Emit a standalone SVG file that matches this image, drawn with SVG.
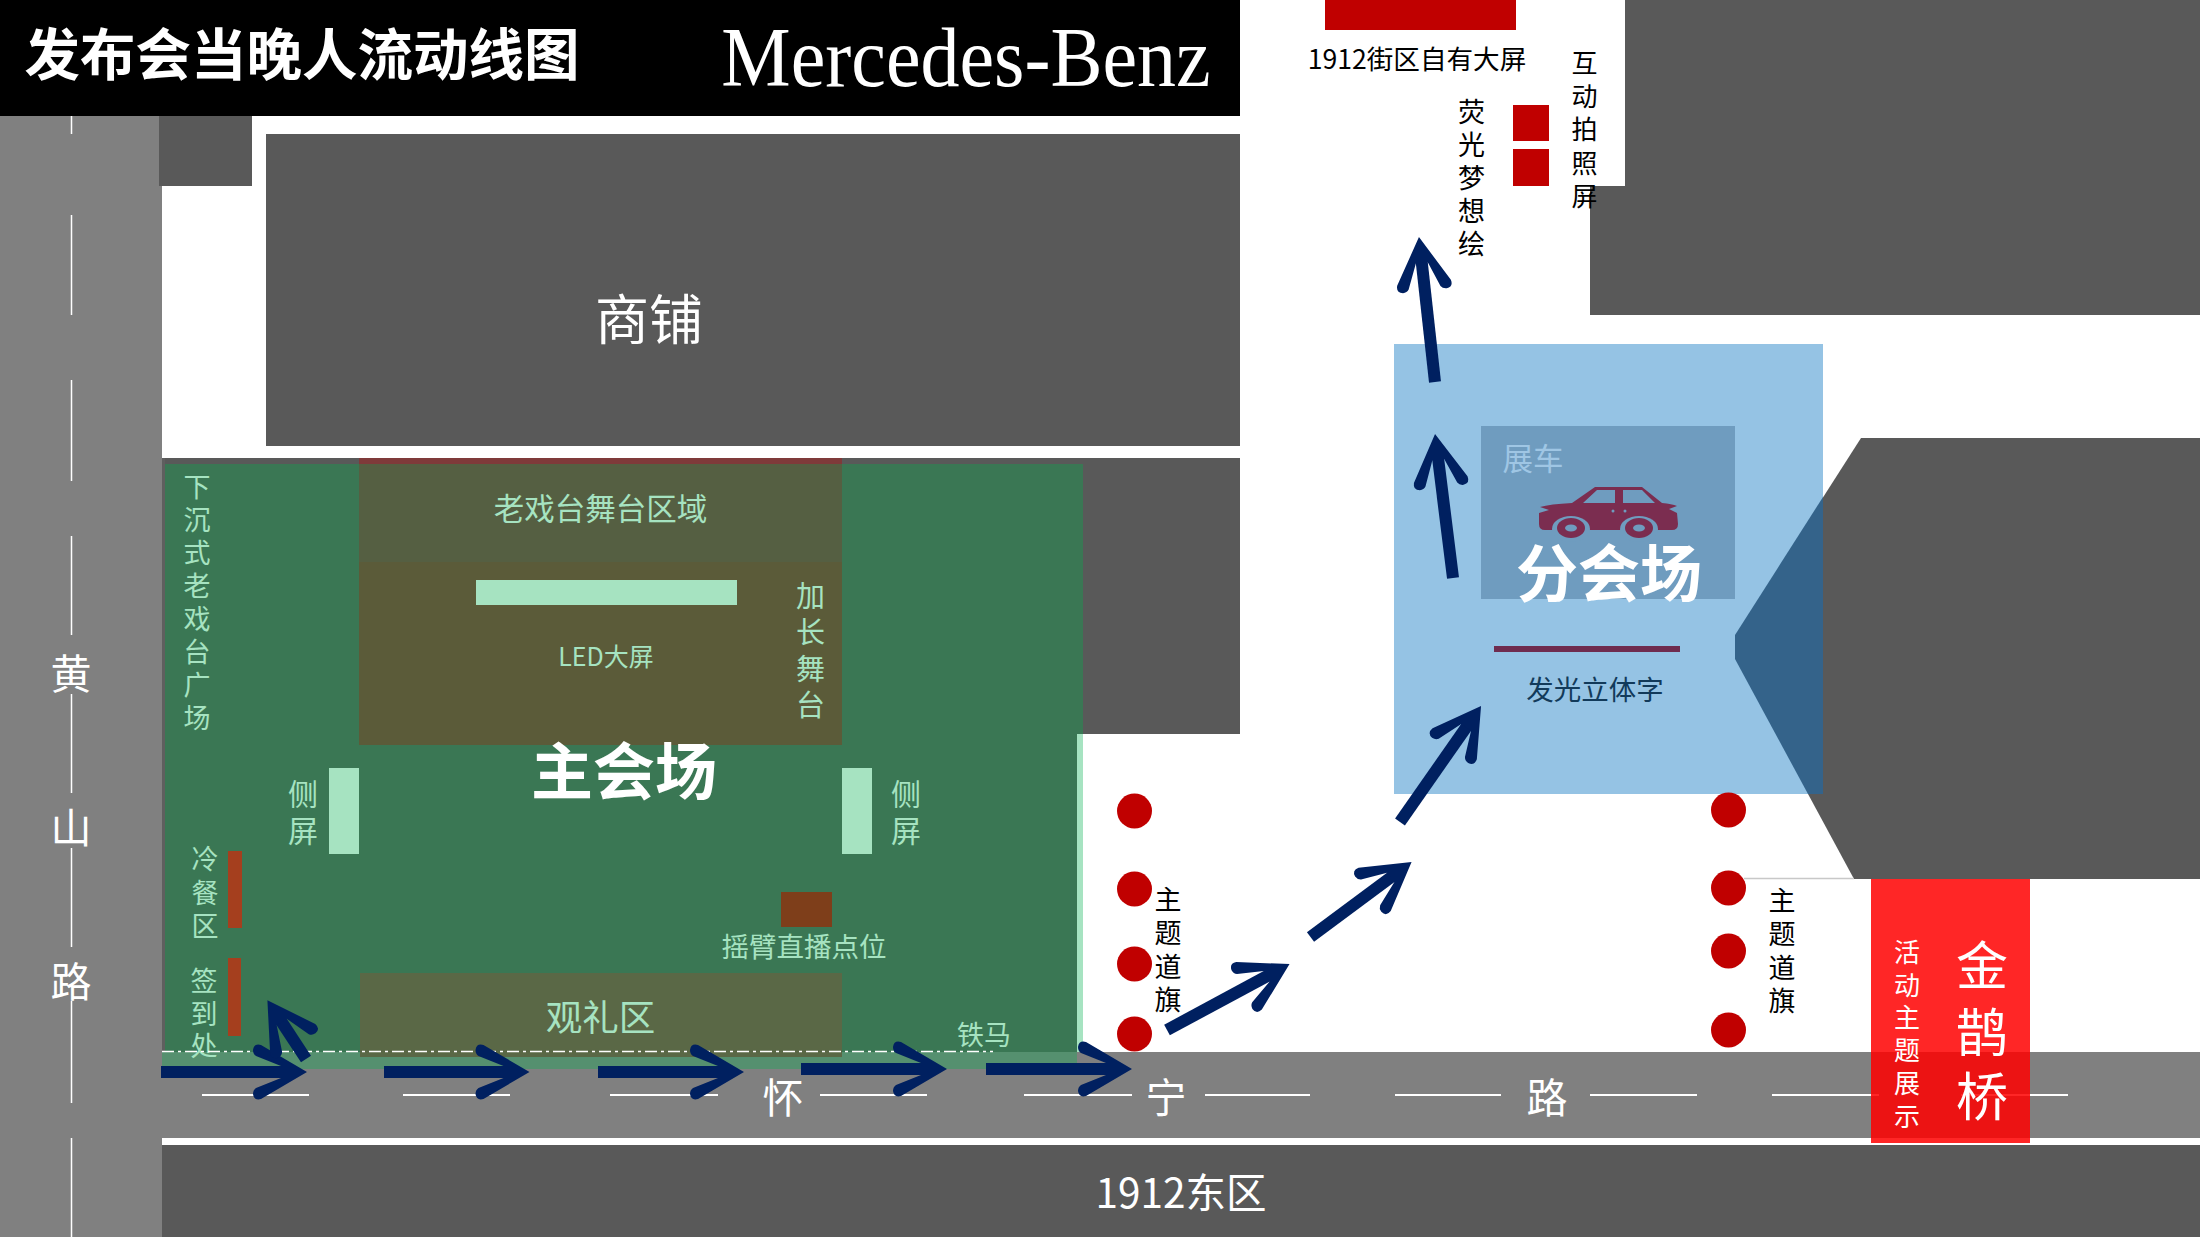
<svg xmlns="http://www.w3.org/2000/svg" width="2200" height="1238" viewBox="0 0 2200 1238">
<style>
text{font-family:"Noto Sans CJK SC","Noto Sans",sans-serif;text-anchor:middle}
.g{fill:#a6e3c1}.w{fill:#fff}.k{fill:#000}
.bld{fill:#595959}.road{fill:#808080}.lane{stroke:#fff;stroke-width:2;fill:none}
.flag{fill:#c00000}.red{fill:#c00000}
.arrow{stroke:#002060;stroke-width:12;fill:none;marker-end:url(#head)}
</style>
<defs>
<marker id="head" viewBox="-60 -32 60 64" refX="-24" refY="0" markerWidth="60" markerHeight="64" markerUnits="userSpaceOnUse" orient="auto">
<path d="M0,0 L-46,-27 Q-53,-29 -54,-22 Q-54,-18 -51,-16 L-26,-6 L-26,6 L-51,16 Q-54,18 -54,22 Q-53,29 -46,27 Z" fill="#002060"/>
</marker>
</defs>
<rect width="2200" height="1238" fill="#fff"/>
<g id="roads">
<rect class="road" x="0" y="116" width="162" height="1121"/>
<rect class="road" x="162" y="1052" width="2038" height="86"/>
<path class="lane" stroke-width="1.500" style="stroke-width:1.500" d="M71.500,116V134M71.500,215V315M71.500,380V481M71.500,536V635M71.500,694V793M71.500,848V947M71.500,1001V1103M71.500,1138V1237"/>
<path class="lane" d="M202,1095H309M403,1095H510M610,1095H718M820,1095H927M1024,1095H1132M1205,1095H1310M1395,1095H1501M1590,1095H1697M1772,1095H1879M1961,1095H2068"/>
<text class="w" x="71" y="689" font-size="41">黄</text>
<text class="w" x="71" y="843" font-size="41">山</text>
<text class="w" x="71" y="997" font-size="41">路</text>
<text class="w" x="783" y="1113" font-size="41">怀</text>
<text class="w" x="1166" y="1113" font-size="41">宁</text>
<text class="w" x="1547" y="1113" font-size="41">路</text>
</g>
<g id="buildings">
<rect class="bld" x="159" y="116" width="93" height="70"/>
<rect class="bld" x="266" y="134" width="974" height="312"/>
<text class="w" x="649" y="340" font-size="54">商铺</text>
<rect class="bld" x="162" y="458" width="1078" height="276"/>
<path class="bld" d="M1625,0H2200V315H1590V186H1625Z"/>
<path class="bld" d="M1861,438H2200V879H1854L1735,659V635Z"/>
<rect class="bld" x="162" y="1145" width="2038" height="92"/>
<text class="w" x="1181" y="1208" font-size="40.500">1912东区</text>
</g>
<g id="header">
<rect x="0" y="0" width="1240" height="116" fill="#000"/>
<text class="w" x="302" y="75" font-size="55.500" font-weight="700">发布会当晚人流动线图</text>
<text class="w" transform="translate(966 86) scale(1 1.080)" font-size="78" style="font-family:'Liberation Serif',serif">Mercedes-Benz</text>
</g>
<g id="main-venue">
<rect x="162" y="458" width="3" height="594" fill="#5f5f5f"/>
<rect x="165" y="464" width="918" height="270" fill="#3a7754"/>
<rect x="165" y="734" width="912" height="318" fill="#3a7754"/>
<rect x="162" y="1052" width="915" height="17" fill="#55906f"/>
<rect x="1077" y="734" width="6" height="318" fill="#a6e3c1"/>
<rect x="359" y="458" width="483" height="6" fill="#7f3a3a"/>
<rect x="359" y="464" width="483" height="98" fill="#555f42"/>
<rect x="359" y="562" width="483" height="183" fill="#5b5b39"/>
<text class="g" x="600.500" y="519.500" font-size="30.500">老戏台舞台区域</text>
<rect x="476" y="580" width="261" height="25" fill="#a6e3c1"/>
<text class="g" x="606" y="666" font-size="25">LED大屏</text>
<text class="g" x="197" font-size="27"><tspan x="197" y="497">下</tspan><tspan x="197" y="530">沉</tspan><tspan x="197" y="563">式</tspan><tspan x="197" y="596">老</tspan><tspan x="197" y="629">戏</tspan><tspan x="197" y="662">台</tspan><tspan x="197" y="695">广</tspan><tspan x="197" y="728">场</tspan></text>
<text class="g" x="810.500" font-size="29"><tspan x="810.500" y="607">加</tspan><tspan x="810.500" y="643">长</tspan><tspan x="810.500" y="680">舞</tspan><tspan x="810.500" y="716">台</tspan></text>
<rect x="329" y="768" width="30" height="86" fill="#a6e3c1"/>
<rect x="842" y="768" width="30" height="86" fill="#a6e3c1"/>
<text class="g" x="303" font-size="30"><tspan x="303" y="805">侧</tspan><tspan x="303" y="842">屏</tspan></text>
<text class="g" x="906" font-size="30"><tspan x="906" y="805">侧</tspan><tspan x="906" y="842">屏</tspan></text>
<text class="w" x="624" y="795" font-size="62" font-weight="700">主会场</text>
<rect x="228" y="851" width="14" height="77" fill="#a53f1e"/>
<rect x="228" y="958" width="13" height="78" fill="#a53f1e"/>
<text class="g" x="205" font-size="27"><tspan x="205" y="869">冷</tspan><tspan x="205" y="903">餐</tspan><tspan x="205" y="936">区</tspan></text>
<text class="g" x="204" font-size="27"><tspan x="204" y="991">签</tspan><tspan x="204" y="1024">到</tspan><tspan x="204" y="1056">处</tspan></text>
<rect x="781" y="892" width="51" height="35" fill="#7e3e1a"/>
<text class="g" x="804" y="957" font-size="27.500">摇臂直播点位</text>
<rect x="360" y="973" width="482" height="84" fill="#5a6846"/>
<text class="g" x="600.500" y="1031" font-size="36.500">观礼区</text>
<text class="g" x="984" y="1045" font-size="27">铁马</text>
<path d="M162,1051.500H993" stroke="#fff" stroke-width="1.500" stroke-dasharray="12 4 3 4" fill="none"/>
</g>
<g id="sub-venue">
<rect x="1394" y="344" width="429" height="450" fill="#95c3e4"/>
<path d="M1823,497L1735,635V659L1808,794H1823Z" fill="#34638a"/>
<rect x="1481" y="426" width="254" height="173" fill="#6f9cbf"/>
<text x="1533" y="470" font-size="30.500" fill="#9fc6e4">展车</text>
<g id="car">
<path fill="#7b2d50" d="M1595,487H1642L1662,503Q1672,504 1677,506L1669,509L1677,513L1678,524Q1678,530 1672,530H1545Q1539,530 1539,524V513L1549,510L1540,507Q1550,504 1572,503Z"/>
<path fill="#6f9cbf" d="M1583,503L1597,490H1615V503ZM1623,490H1642L1655,503H1623Z"/>
<circle cx="1613" cy="511" r="1.500" fill="#6f9cbf"/>
<circle cx="1625" cy="511" r="1.500" fill="#6f9cbf"/>
<ellipse cx="1571" cy="529" rx="19" ry="13" fill="#6f9cbf"/>
<ellipse cx="1639" cy="529" rx="19" ry="13" fill="#6f9cbf"/>
<ellipse cx="1571" cy="528" rx="14" ry="10" fill="#7b2d50"/>
<ellipse cx="1639" cy="528" rx="14" ry="10" fill="#7b2d50"/>
<ellipse cx="1571" cy="528" rx="6" ry="3.500" fill="#6f9cbf"/>
<ellipse cx="1639" cy="528" rx="6" ry="3.500" fill="#6f9cbf"/>
</g>
<text class="w" x="1609" y="597" font-size="62" font-weight="700">分会场</text>
<rect x="1494" y="646" width="186" height="6" fill="#6f2c4f"/>
<text x="1595" y="700" font-size="27.500" fill="#123a5a">发光立体字</text>
</g>
<g id="north-items">
<rect class="red" x="1325" y="0" width="191" height="30"/>
<text class="k" x="1417" y="69" font-size="26.600">1912街区自有大屏</text>
<rect class="red" x="1513" y="105" width="36" height="36"/>
<rect class="red" x="1513" y="149" width="36" height="37"/>
<text class="k" x="1471.500" font-size="27"><tspan x="1471.500" y="122">荧</tspan><tspan x="1471.500" y="155">光</tspan><tspan x="1471.500" y="188">梦</tspan><tspan x="1471.500" y="221">想</tspan><tspan x="1471.500" y="254">绘</tspan></text>
<text class="k" x="1584.500" font-size="26"><tspan x="1584.500" y="73">互</tspan><tspan x="1584.500" y="106">动</tspan><tspan x="1584.500" y="139">拍</tspan><tspan x="1584.500" y="173">照</tspan><tspan x="1584.500" y="206">屏</tspan></text>
</g>
<g id="flags">
<circle class="flag" cx="1134.500" cy="811" r="17.500"/>
<circle class="flag" cx="1134.500" cy="889" r="17.500"/>
<circle class="flag" cx="1134.500" cy="964" r="17.500"/>
<circle class="flag" cx="1134.500" cy="1034" r="17.500"/>
<circle class="flag" cx="1728.500" cy="810" r="17.500"/>
<circle class="flag" cx="1728.500" cy="888" r="17.500"/>
<circle class="flag" cx="1728.500" cy="951" r="17.500"/>
<circle class="flag" cx="1728.500" cy="1030" r="17.500"/>
<text class="k" x="1168" font-size="27"><tspan x="1168" y="910">主</tspan><tspan x="1168" y="943">题</tspan><tspan x="1168" y="977">道</tspan><tspan x="1168" y="1010">旗</tspan></text>
<text class="k" x="1782" font-size="27"><tspan x="1782" y="911">主</tspan><tspan x="1782" y="944">题</tspan><tspan x="1782" y="978">道</tspan><tspan x="1782" y="1011">旗</tspan></text>
<path d="M1744,878.500H1854" stroke="#c8c8c8" stroke-width="1.500" fill="none"/>
</g>
<g id="bridge">
<rect x="1871" y="879" width="159" height="264" fill="#ff0000" fill-opacity=".85"/>
<text class="w" x="1907" font-size="26"><tspan x="1907" y="962">活</tspan><tspan x="1907" y="995">动</tspan><tspan x="1907" y="1027">主</tspan><tspan x="1907" y="1060">题</tspan><tspan x="1907" y="1093">展</tspan><tspan x="1907" y="1126">示</tspan></text>
<text class="w" x="1982" font-size="52"><tspan x="1982" y="985">金</tspan><tspan x="1982" y="1052">鹊</tspan><tspan x="1982" y="1116">桥</tspan></text>
</g>
<g id="connectors">
<line class="arrow" x1="161" y1="1072" x2="283" y2="1072"/>
<line class="arrow" x1="384" y1="1072" x2="505.500" y2="1072"/>
<line class="arrow" x1="598" y1="1072" x2="720" y2="1072"/>
<line class="arrow" x1="801" y1="1069" x2="923" y2="1069"/>
<line class="arrow" x1="986" y1="1069" x2="1108" y2="1069"/>
<line class="arrow" x1="306" y1="1059" x2="280.600" y2="1020.400"/>
<line class="arrow" x1="1167" y1="1030" x2="1268.400" y2="975.400"/>
<line class="arrow" x1="1310.500" y1="937" x2="1392.300" y2="876.300"/>
<line class="arrow" x1="1400" y1="822" x2="1467.300" y2="725.700"/>
<line class="arrow" x1="1453" y1="578" x2="1438" y2="457.800"/>
<line class="arrow" x1="1435" y1="382" x2="1421.600" y2="260.900"/>
</g>
</svg>
